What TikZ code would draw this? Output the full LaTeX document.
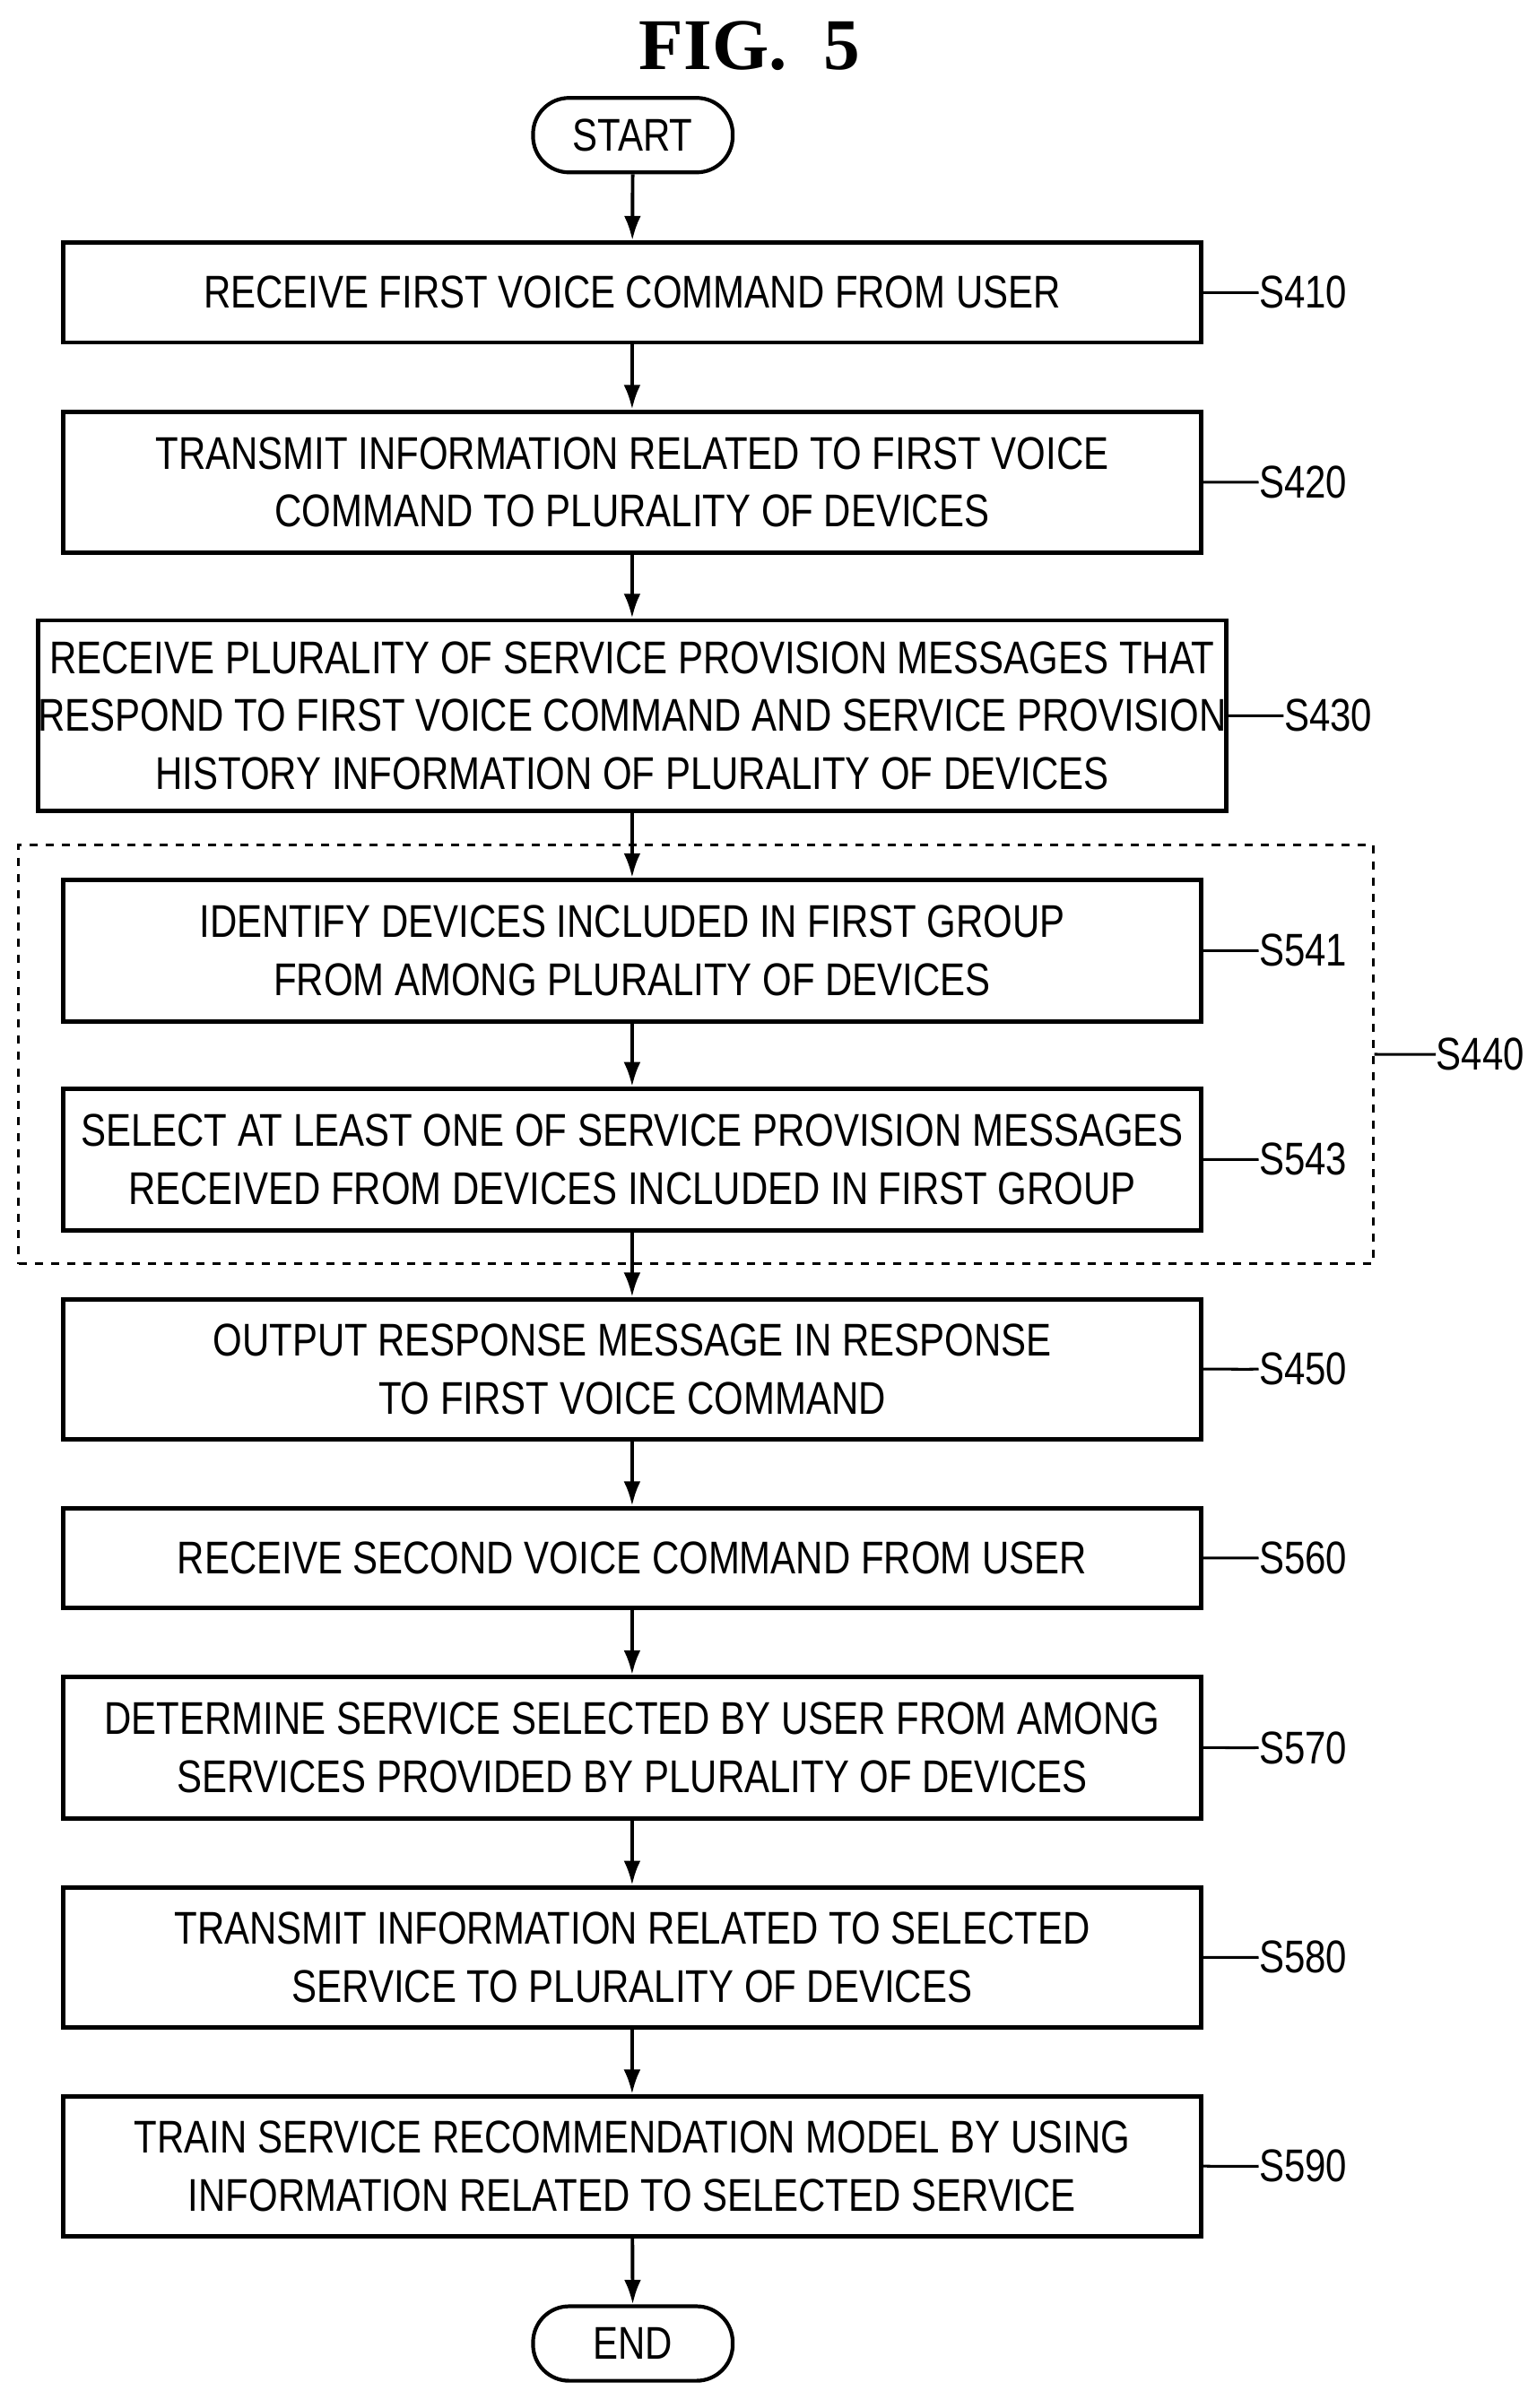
\documentclass[tikz,border=0pt]{standalone}
\usepackage{fontspec}
\setmainfont{Liberation Sans}[FakeStretch=0.82]
\newfontfamily\figfont{Liberation Serif}
\usetikzlibrary{positioning,arrows.meta}
\begin{document}
\begin{tikzpicture}[x=0.02cm,y=-0.02cm,
  stepbox/.style={draw=black,line width=1.6pt,minimum width=14.82cm,align=center,inner sep=0pt,font=\fontsize{17}{21.5}\selectfont},
  term/.style={draw=black,line width=1.4pt,rounded corners=0.47cm,minimum width=2.6cm,minimum height=0.97cm,font=\fontsize{17}{20}\selectfont},
  slab/.style={anchor=west,inner sep=0pt,font=\fontsize{17}{20}\selectfont},
  flow/.style={-{Latex[length=0.32cm,width=0.22cm]},line width=1.3pt},
  lead/.style={line width=1pt}]
\useasboundingbox (0,0) rectangle (1000,1568);

\node[font=\figfont\bfseries\fontsize{27}{30}\selectfont] (title) at (488,30) {FIG.\ \ 5};

\node[term] (start) at (412,88) {START};
\node[stepbox,minimum height=1.3cm] (s410) at (411.5,190.5) {RECEIVE FIRST VOICE COMMAND FROM USER};
\node[stepbox,minimum height=1.84cm] (s420) at (411.5,314) {TRANSMIT INFORMATION RELATED TO FIRST VOICE\\COMMAND TO PLURALITY OF DEVICES};
\node[stepbox,minimum height=2.48cm] (s430) at (411.5,466) {RECEIVE PLURALITY OF SERVICE PROVISION MESSAGES THAT\\RESPOND TO FIRST VOICE COMMAND AND SERVICE PROVISION\\HISTORY INFORMATION OF PLURALITY OF DEVICES};
\node[stepbox,minimum height=1.84cm] (s541) at (411.5,619) {IDENTIFY DEVICES INCLUDED IN FIRST GROUP\\FROM AMONG PLURALITY OF DEVICES};
\node[stepbox,minimum height=1.84cm] (s543) at (411.5,755) {SELECT AT LEAST ONE OF SERVICE PROVISION MESSAGES\\RECEIVED FROM DEVICES INCLUDED IN FIRST GROUP};
\node[stepbox,minimum height=1.82cm] (s450) at (411.5,891.5) {OUTPUT RESPONSE MESSAGE IN RESPONSE\\TO FIRST VOICE COMMAND};
\node[stepbox,minimum height=1.3cm] (s560) at (411.5,1014.5) {RECEIVE SECOND VOICE COMMAND FROM USER};
\node[stepbox,minimum height=1.84cm] (s570) at (411.5,1138) {DETERMINE SERVICE SELECTED BY USER FROM AMONG\\SERVICES PROVIDED BY PLURALITY OF DEVICES};
\node[stepbox,minimum height=1.82cm] (s580) at (411.5,1274.5) {TRANSMIT INFORMATION RELATED TO SELECTED\\SERVICE TO PLURALITY OF DEVICES};
\node[stepbox,minimum height=1.82cm] (s590) at (411.5,1410.5) {TRAIN SERVICE RECOMMENDATION MODEL BY USING\\INFORMATION RELATED TO SELECTED SERVICE};
\node[term] (end) at (412,1526) {END};

% dashed group
\node[draw=black,dashed,line width=0.9pt,minimum width=17.64cm,minimum height=5.46cm,inner sep=0pt] (g440) at (453,686.5) {};

\draw[flow] (start) -- (s410);
\draw[flow] (s410) -- (s420);
\draw[flow] (s420) -- (s430);
\draw[flow] (s430) -- (s541);
\draw[flow] (s541) -- (s543);
\draw[flow] (s543) -- (s450);
\draw[flow] (s450) -- (s560);
\draw[flow] (s560) -- (s570);
\draw[flow] (s570) -- (s580);
\draw[flow] (s580) -- (s590);
\draw[flow] (s590) -- (end);

% step labels
\foreach \s/\t in {s410/S410,s420/S420,s430/S430,s541/S541,s543/S543,s450/S450,s560/S560,s570/S570,s580/S580,s590/S590}{
  \node[slab] (l\s) at ([xshift=0.72cm]\s.east) {\t};
  \draw[lead] (\s.east) .. controls +(0.5,0) and +(-0.2,0.12) .. (l\s.west);
}
\node[slab] (lg440) at ([xshift=0.8cm]g440.east) {S440};
\draw[lead] (g440.east) .. controls +(0.5,0) and +(-0.2,0.12) .. (lg440.west);
\end{tikzpicture}
\end{document}
